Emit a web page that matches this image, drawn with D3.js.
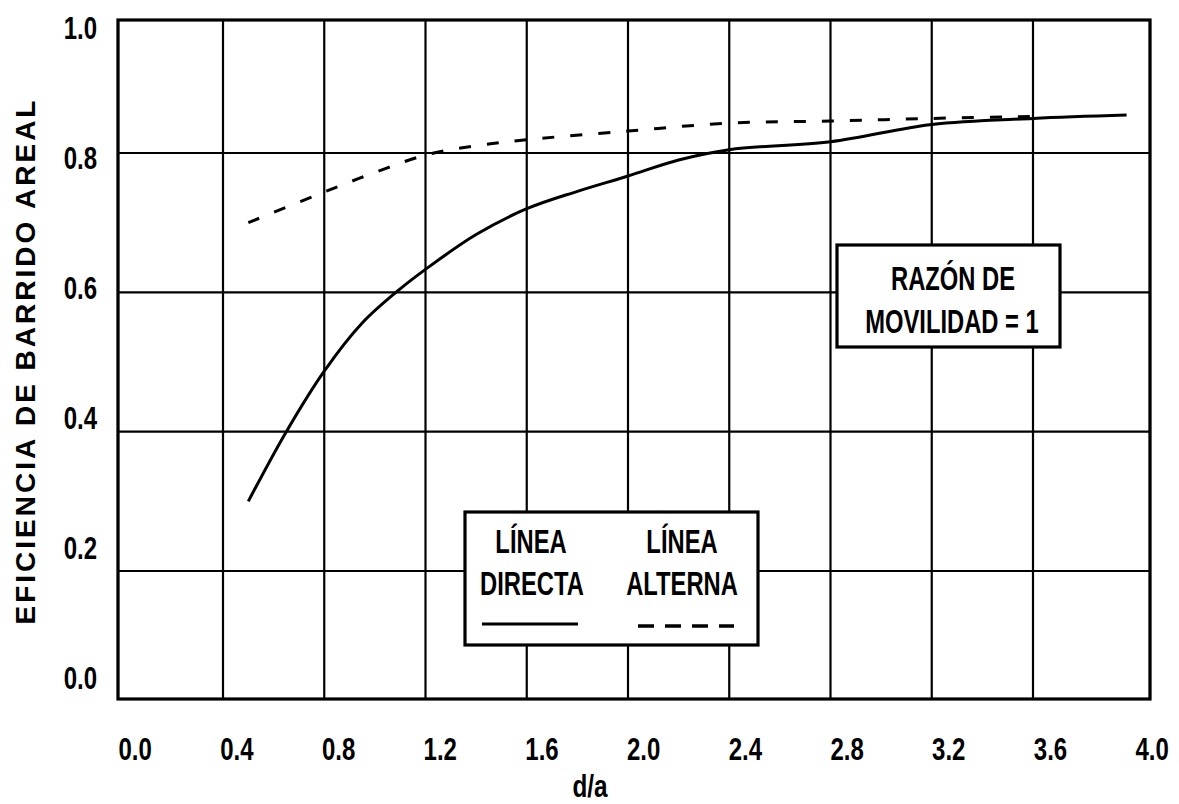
<!DOCTYPE html>
<html>
<head>
<meta charset="utf-8">
<script src="https://cdn.jsdelivr.net/npm/d3@7"></script>
<style>
  body { margin: 0; background: #fff; }
  text { font-family: "Liberation Sans", Arial, sans-serif; font-weight: bold; fill: #000; }
</style>
</head>
<body>
<div id="chart"></div>
<script>
// chart data
var xTicks = [0.0, 0.4, 0.8, 1.2, 1.6, 2.0, 2.4, 2.8, 3.2, 3.6, 4.0]
var yTicks = [0.0, 0.2, 0.4, 0.6, 0.8, 1.0]

// linea directa (solid)
var directaX = [0.50, 0.65, 0.80, 0.95, 1.10, 1.20, 1.40, 1.60, 1.80, 2.00, 2.20, 2.40, 2.80, 3.20, 3.60, 3.92]
var directaY = [0.300, 0.400, 0.487, 0.556, 0.605, 0.633, 0.683, 0.720, 0.745, 0.767, 0.790, 0.805, 0.817, 0.843, 0.852, 0.857]

// linea alterna (dashed)
var alternaX = [0.50, 0.80, 1.00, 1.20, 1.40, 1.60, 2.00, 2.40, 2.80, 3.20, 3.60]
var alternaY = [0.700, 0.744, 0.772, 0.797, 0.811, 0.820, 0.833, 0.845, 0.848, 0.852, 0.855]

var width = 1179,
    height = 804

var svg = d3.select("#chart")
  .append("svg")
    .attr("width", width)
    .attr("height", height)

// the grid of the original is not perfectly even, so the scales are piecewise
var x = d3.scaleLinear()
  .domain([0, 0.4, 3.6, 4.0])
  .range([118, 223, 1033, 1150])

var y = d3.scaleLinear()
  .domain([0, 0.2, 0.8, 1.0])
  .range([699, 571, 153, 20])

// tick labels sit on their own even spacing
var xLab = d3.scaleLinear().domain([0, 4]).range([118, 1135])
var yLab = d3.scaleLinear().domain([0, 1]).range([677, 27])

// narrow bold text, like the original lettering
function label(g, px, py, str, size, sx, anchor) {
  return g.append("text")
    .attr("transform", "translate(" + px + "," + py + ") scale(" + sx + ",1)")
    .attr("text-anchor", anchor || "middle")
    .style("font-size", size + "px")
    .text(str)
}

// grid lines
svg.append("g")
  .selectAll("line")
  .data(xTicks)
  .enter()
  .append("line")
    .attr("x1", function(d) { return x(d) })
    .attr("x2", function(d) { return x(d) })
    .attr("y1", y(0))
    .attr("y2", y(1))
    .attr("stroke", "#000")
    .attr("stroke-width", 2.2)

svg.append("g")
  .selectAll("line")
  .data(yTicks)
  .enter()
  .append("line")
    .attr("x1", x(0))
    .attr("x2", x(4))
    .attr("y1", function(d) { return y(d) })
    .attr("y2", function(d) { return y(d) })
    .attr("stroke", "#000")
    .attr("stroke-width", 2.2)

// frame
svg.append("rect")
  .attr("x", x(0))
  .attr("y", y(1))
  .attr("width", x(4) - x(0))
  .attr("height", y(0) - y(1))
  .attr("fill", "none")
  .attr("stroke", "#000")
  .attr("stroke-width", 3.2)

// axes (labels only)
var xAxis = svg.append("g")
  .attr("font-family", null)
  .call(d3.axisBottom(xLab).tickValues(xTicks).tickSize(0).tickFormat(d3.format(".1f")))
xAxis.select(".domain").remove()
xAxis.selectAll("text")
  .attr("x", 0)
  .attr("y", 0)
  .attr("dy", 0)
  .attr("transform", "translate(0,760) scale(0.75,1)")
  .attr("text-anchor", "start")
  .style("font-size", "32px")

var yAxis = svg.append("g")
  .attr("font-family", null)
  .attr("transform", "translate(97,0)")
  .call(d3.axisLeft(yLab).tickValues(yTicks).tickSize(0).tickFormat(d3.format(".1f")))
yAxis.select(".domain").remove()
yAxis.selectAll("text")
  .attr("x", 0)
  .attr("dy", "0.36em")
  .attr("transform", "scale(0.75,1)")
  .style("font-size", "32px")

// axis titles
label(svg, 590, 797, "d/a", 32, 0.76)

svg.append("text")
  .attr("transform", "translate(35,361) rotate(-90)")
  .attr("text-anchor", "middle")
  .style("font-size", "28px")
  .style("letter-spacing", "3px")
  .text("EFICIENCIA DE BARRIDO AREAL")

// curves
var line = d3.line()
  .x(function(d) { return x(d[0]) })
  .y(function(d) { return y(d[1]) })
  .curve(d3.curveCatmullRom)

svg.append("path")
  .datum(d3.zip(directaX, directaY))
  .attr("d", line)
  .attr("fill", "none")
  .attr("stroke", "#000")
  .attr("stroke-width", 3)

svg.append("path")
  .datum(d3.zip(alternaX, alternaY))
  .attr("d", line)
  .attr("fill", "none")
  .attr("stroke", "#000")
  .attr("stroke-width", 3)
  .attr("stroke-dasharray", "12,16")

// legend box
var legend = svg.append("g")
legend.append("rect")
  .attr("x", 465).attr("y", 512)
  .attr("width", 293).attr("height", 133)
  .attr("fill", "#fff")
  .attr("stroke", "#000")
  .attr("stroke-width", 3.2)

label(legend, 531, 553, "LÍNEA", 33, 0.72)
label(legend, 532, 595, "DIRECTA", 33, 0.72)
label(legend, 682, 553, "LÍNEA", 33, 0.72)
label(legend, 682, 595, "ALTERNA", 33, 0.72)

legend.append("line")
  .attr("x1", 482).attr("x2", 578)
  .attr("y1", 624).attr("y2", 624)
  .attr("stroke", "#000").attr("stroke-width", 3)
legend.append("line")
  .attr("x1", 638).attr("x2", 734)
  .attr("y1", 626).attr("y2", 626)
  .attr("stroke", "#000").attr("stroke-width", 3.5)
  .attr("stroke-dasharray", "16,11")

// mobility ratio box
var note = svg.append("g")
note.append("rect")
  .attr("x", 837).attr("y", 245)
  .attr("width", 223).attr("height", 102)
  .attr("fill", "#fff")
  .attr("stroke", "#000")
  .attr("stroke-width", 3.2)
label(note, 953, 290, "RAZÓN DE", 33, 0.72)
label(note, 952, 333, "MOVILIDAD = 1", 33, 0.72)
</script>
</body>
</html>
